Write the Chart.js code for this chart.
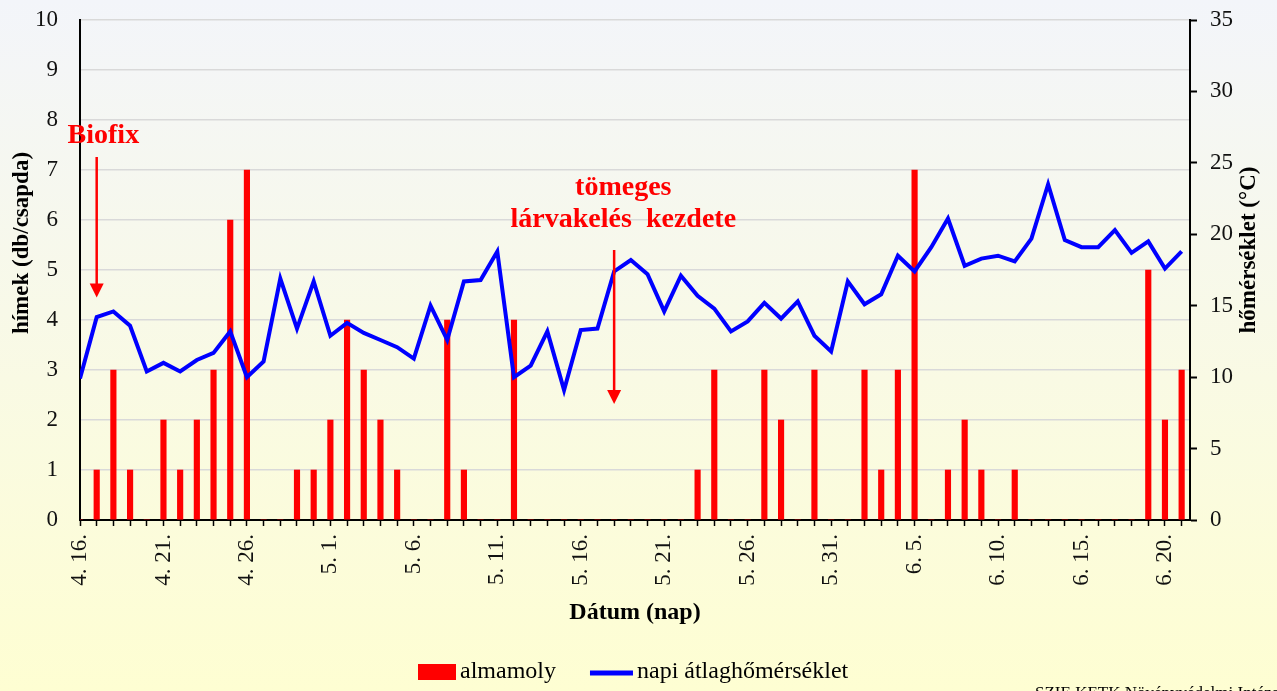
<!DOCTYPE html>
<html>
<head>
<meta charset="utf-8">
<script src="https://cdn.jsdelivr.net/npm/chart.js@4/dist/chart.umd.min.js"></script>
<style>
  html, body { margin: 0; padding: 0; background: #fbfbe6; }
  canvas { display: block; }
</style>
</head>
<body>
<canvas id="chart" width="1277" height="691"></canvas>
<script>
// napok (4.16. - 6.21.)
const days = [
  "4. 16.", "4. 17.", "4. 18.", "4. 19.", "4. 20.", "4. 21.", "4. 22.", "4. 23.",
  "4. 24.", "4. 25.", "4. 26.", "4. 27.", "4. 28.", "4. 29.", "4. 30.",
  "5. 1.", "5. 2.", "5. 3.", "5. 4.", "5. 5.", "5. 6.", "5. 7.", "5. 8.", "5. 9.",
  "5. 10.", "5. 11.", "5. 12.", "5. 13.", "5. 14.", "5. 15.", "5. 16.", "5. 17.",
  "5. 18.", "5. 19.", "5. 20.", "5. 21.", "5. 22.", "5. 23.", "5. 24.", "5. 25.",
  "5. 26.", "5. 27.", "5. 28.", "5. 29.", "5. 30.", "5. 31.",
  "6. 1.", "6. 2.", "6. 3.", "6. 4.", "6. 5.", "6. 6.", "6. 7.", "6. 8.", "6. 9.",
  "6. 10.", "6. 11.", "6. 12.", "6. 13.", "6. 14.", "6. 15.", "6. 16.", "6. 17.",
  "6. 18.", "6. 19.", "6. 20.", "6. 21.",
];

// almamoly fogás (db/csapda)
const moths = [
  0, 1, 3, 1, 0, 2, 1, 2, 3, 6, 7, 0, 0, 1, 1,
  2, 4, 3, 2, 1, 0, 0, 4, 1, 0, 0, 4, 0, 0, 0, 0, 0, 0, 0, 0, 0, 0,
  1, 3, 0, 0, 3, 2, 0, 3, 0,
  0, 3, 1, 3, 7, 0, 1, 2, 1, 0, 1, 0, 0, 0, 0, 0, 0, 0, 5, 2, 3,
];

// napi átlaghőmérséklet (°C)
const temps = [
  9.9, 14.2, 14.6, 13.6, 10.4, 11.0, 10.4, 11.2, 11.7, 13.2, 10.0, 11.1, 16.9, 13.4, 16.7,
  12.9, 13.8, 13.1, 12.6, 12.1, 11.3, 15.0, 12.6, 16.7, 16.8, 18.8, 10.0, 10.8, 13.2, 9.1,
  13.3, 13.4, 17.4, 18.2, 17.2, 14.6, 17.1, 15.7, 14.8, 13.2, 13.9, 15.2, 14.1, 15.3, 12.9,
  11.8,
  16.7, 15.1, 15.8, 18.5, 17.4, 19.1, 21.1, 17.8, 18.3, 18.5, 18.1, 19.7, 23.5, 19.6, 19.1,
  19.1, 20.3, 18.7, 19.5, 17.6, 18.8,
];

// szöveges jelölések (nap indexe, bal tengely értéke)
const notes = [
  { lines: ["Biofix"], textDay: 1.4, textY: 7.68, day: 1, from: 7.26, to: 4.45 },
  { lines: ["tömeges", "lárvakelés  kezdete"], textDay: 32.55, textY: 6.64, day: 32, from: 5.4, to: 2.32 },
];

const FONT = "'Liberation Serif', 'Times New Roman', serif";

const background = {
  id: "background",
  beforeDraw(chart) {
    const { ctx, width, height } = chart;
    const g = ctx.createLinearGradient(0, 0, 0, height);
    g.addColorStop(0, "#f3f5fa");
    g.addColorStop(1, "#fefed2");
    ctx.save();
    ctx.fillStyle = g;
    ctx.fillRect(0, 0, width, height);
    ctx.restore();
  },
};

function rotatedText(ctx, text, x, y) {
  ctx.save();
  ctx.translate(x, y);
  ctx.rotate(-Math.PI / 2);
  ctx.fillText(text, 0, 0);
  ctx.restore();
}

const extras = {
  id: "extras",
  afterDraw(chart) {
    const { ctx, scales } = chart;
    const xs = scales.x;
    const ys = scales.y;
    ctx.save();

    // függőleges tengelycímek
    ctx.fillStyle = "#000";
    ctx.textAlign = "center";
    ctx.textBaseline = "middle";
    ctx.font = "bold 23px " + FONT;
    rotatedText(ctx, "hímek (db/csapda)", 22, 243);
    rotatedText(ctx, "hőmérséklet (°C)", 1249, 250);

    // jelölések nyíllal
    ctx.fillStyle = "#ff0000";
    ctx.strokeStyle = "#ff0000";
    ctx.font = "bold 28px " + FONT;
    notes.forEach((n) => {
      const tx = xs.getPixelForValue(n.textDay);
      n.lines.forEach((line, i) => {
        ctx.fillText(line, tx, ys.getPixelForValue(n.textY) + i * 32);
      });
      const ax = xs.getPixelForValue(n.day);
      const y0 = ys.getPixelForValue(n.from);
      const y1 = ys.getPixelForValue(n.to);
      ctx.lineWidth = 2.5;
      ctx.beginPath();
      ctx.moveTo(ax, y0);
      ctx.lineTo(ax, y1 - 12);
      ctx.stroke();
      ctx.beginPath();
      ctx.moveTo(ax - 7, y1 - 14);
      ctx.lineTo(ax + 7, y1 - 14);
      ctx.lineTo(ax, y1);
      ctx.closePath();
      ctx.fill();
    });

    // jelmagyarázat
    const [bars, line] = chart.data.datasets;
    ctx.font = "24px " + FONT;
    ctx.textAlign = "left";
    ctx.fillStyle = bars.backgroundColor;
    ctx.fillRect(418, 664, 38, 16);
    ctx.fillStyle = "#000";
    ctx.fillText(bars.label, 460, 672);
    const lx = 460 + ctx.measureText(bars.label).width + 34;
    ctx.strokeStyle = line.borderColor;
    ctx.lineWidth = 5;
    ctx.beginPath();
    ctx.moveTo(lx, 673);
    ctx.lineTo(lx + 43, 673);
    ctx.stroke();
    ctx.fillText(line.label, lx + 47, 672);

    // forrás (levágva)
    ctx.font = "17px " + FONT;
    ctx.textBaseline = "top";
    ctx.fillText("SZIE KETK Növényvédelmi Intézet", 1035, 685);

    ctx.restore();
  },
};

// függőleges tengely: rögzített szélesség, extra felső/alsó hely nélkül
function fixWidth(w) {
  return (scale) => {
    scale.width = w;
    scale.paddingTop = 0;
    scale.paddingBottom = 0;
  };
}

new Chart(document.getElementById("chart"), {
  type: "bar",
  data: {
    datasets: [
      {
        type: "bar",
        label: "almamoly",
        data: moths.map((v, i) => ({ x: i, y: v })),
        backgroundColor: "#ff0000",
        borderWidth: 0,
        barThickness: 5.5,
        yAxisID: "y",
        order: 2,
      },
      {
        type: "line",
        label: "napi átlaghőmérséklet",
        data: temps.map((v, i) => ({ x: i, y: v })),
        borderColor: "#0000ff",
        borderWidth: 4,
        tension: 0,
        pointRadius: 0,
        fill: false,
        yAxisID: "y2",
        order: 1,
      },
    ],
  },
  options: {
    responsive: false,
    animation: false,
    layout: { padding: { top: 20, left: 0, right: 0, bottom: 0 } },
    plugins: {
      legend: { display: false },
      tooltip: { enabled: false },
    },
    scales: {
      x: {
        type: "linear",
        offset: false,
        min: 0,
        max: 66.5,
        afterBuildTicks: (scale) => {
          scale.ticks = days.map((d, i) => ({ value: i }));
        },
        afterFit: (scale) => {
          scale.height = 171;
        },
        ticks: {
          autoSkip: false,
          minRotation: 90,
          maxRotation: 90,
          padding: 8,
          color: "#111",
          font: { family: FONT, size: 23 },
          callback: (value, index) => (index % 5 === 0 ? days[index] : ""),
        },
        grid: {
          offset: false,
          drawOnChartArea: false,
          tickLength: 6,
          tickColor: "#000",
          tickWidth: 1.5,
        },
        border: { color: "#000", width: 2 },
        title: {
          display: true,
          text: "Dátum (nap)",
          color: "#000",
          font: { family: FONT, size: 24, weight: "bold", lineHeight: 1.2 },
          padding: { top: 0, bottom: 64 },
        },
      },
      y: {
        position: "left",
        min: 0,
        max: 10,
        afterFit: fixWidth(80),
        ticks: {
          stepSize: 1,
          padding: 22,
          color: "#111",
          font: { family: FONT, size: 23 },
        },
        grid: {
          color: "#d9d9d9",
          lineWidth: 1.5,
          drawTicks: false,
        },
        border: { color: "#000", width: 2 },
      },
      y2: {
        position: "right",
        min: 0,
        max: 35,
        afterFit: fixWidth(87),
        ticks: {
          stepSize: 5,
          padding: 13,
          color: "#111",
          font: { family: FONT, size: 23 },
        },
        grid: {
          drawOnChartArea: false,
          tickLength: 7,
          tickColor: "#000",
          tickWidth: 2,
        },
        border: { color: "#000", width: 2 },
      },
    },
  },
  plugins: [background, extras],
});
</script>
</body>
</html>
